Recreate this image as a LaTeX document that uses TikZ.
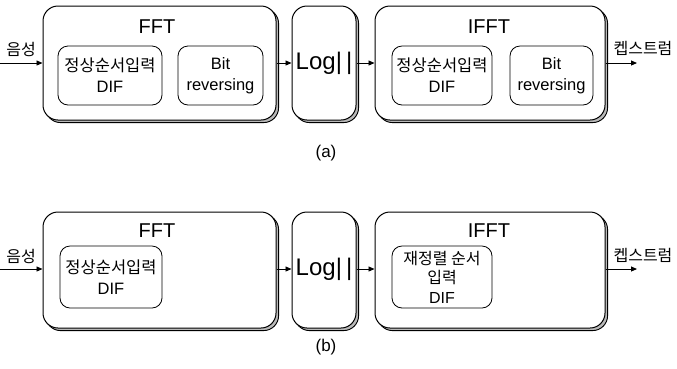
\documentclass[tikz,border=0pt]{standalone}
\usepackage{fontspec}
\setmainfont{Liberation Sans}
\newfontfamily\kr{Noto Sans CJK KR}
\usetikzlibrary{arrows.meta,shadows}
\begin{document}
\begin{tikzpicture}[x=1pt,y=-1pt,
  outer/.style={draw=black,line width=1pt,fill=white,rounded corners=15pt,inner sep=0pt,
    general shadow={shadow xshift=2.6pt,shadow yshift=-2.6pt,draw=black,fill=gray!55,line width=0.9pt}},
  inner/.style={draw=black,line width=0.8pt,rounded corners=10pt,inner sep=0pt,align=center,
    font=\fontsize{16.5}{21}\selectfont},
  title/.style={font=\fontsize{20}{22}\selectfont,inner sep=0pt},
  lbl/.style={font=\kr\fontsize{16}{18}\selectfont,inner sep=0pt},
  arr/.style={line width=0.9pt,-{Triangle[length=6pt,width=5pt]}},
  subcap/.style={font=\fontsize{17}{19}\selectfont,inner sep=0pt}]
\useasboundingbox (0,0) rectangle (677,368);
% ---------- (a)
\node[outer,minimum width=233pt,minimum height=114pt] (fftA) at (159.5,63) {};
\node[outer,minimum width=64pt,minimum height=114pt] (logA) at (324,63) {};
\node[outer,minimum width=230pt,minimum height=114pt] (ifftA) at (490,63) {};
\node[title] (fftAt) at (157,27) {FFT};
\node[title] (ifftAt) at (489,27) {IFFT};
\node[font=\fontsize{24}{26}\selectfont,inner sep=0pt] (logAt) at (324,63) {Log|\,|};
\node[inner,minimum width=104pt,minimum height=59pt] (difA) at (110,75.5) {{\kr 정상순서입력}\\DIF};
\node[inner,minimum width=85pt,minimum height=59pt] (bitA) at (220.5,75.5) {Bit\\reversing};
\node[inner,minimum width=100pt,minimum height=59pt] (idifA) at (442,75.5) {{\kr 정상순서입력}\\DIF};
\node[inner,minimum width=83pt,minimum height=59pt] (ibitA) at (551.5,75.5) {Bit\\reversing};
\coordinate (inA) at (0,63);
\coordinate (outA) at (637,63);
\draw[arr] (inA) -- (fftA);
\draw[arr] (fftA) -- (logA);
\draw[arr] (logA) -- (ifftA);
\draw[arr] (ifftA) -- (outA);
\node[lbl] (voiceA) at (21,49) {음성};
\node[lbl] (cepA) at (643,48) {켑스트럼};
\node[subcap] (capA) at (326,153) {(a)};
% ---------- (b)
\node[outer,minimum width=233pt,minimum height=116pt] (fftB) at (159.5,270) {};
\node[outer,minimum width=64pt,minimum height=116pt] (logB) at (324,270) {};
\node[outer,minimum width=230pt,minimum height=116pt] (ifftB) at (490,270) {};
\node[title] (fftBt) at (157,231) {FFT};
\node[title] (ifftBt) at (489,231) {IFFT};
\node[font=\fontsize{24}{26}\selectfont,inner sep=0pt] (logBt) at (324,269) {Log|\,|};
\node[inner,minimum width=102pt,minimum height=62pt] (difB) at (111,277) {{\kr 정상순서입력}\\DIF};
\node[inner,minimum width=100pt,minimum height=62pt,font=\fontsize{16}{19.5}\selectfont] (idifB) at (442,277) {{\kr 재정렬 순서}\\{\kr 입력}\\DIF};
\coordinate (inB) at (0,269);
\coordinate (outB) at (637,269);
\draw[arr] (inB) -- (fftB.west|-inB);
\draw[arr] (fftB.east|-inB) -- (logB.west|-inB);
\draw[arr] (logB.east|-inB) -- (ifftB.west|-inB);
\draw[arr] (ifftB.east|-inB) -- (outB);
\node[lbl] (voiceB) at (21,256) {음성};
\node[lbl] (cepB) at (643,255) {켑스트럼};
\node[subcap] (capB) at (326,347) {(b)};
\end{tikzpicture}
\end{document}
